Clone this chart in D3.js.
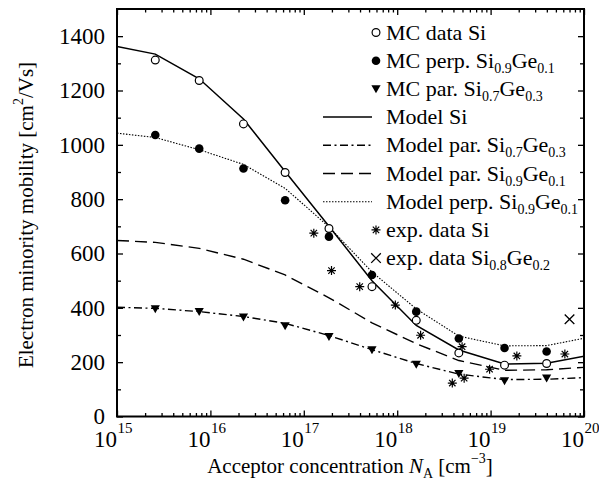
<!DOCTYPE html>
<html><head><meta charset="utf-8">
<script src="https://cdn.jsdelivr.net/npm/d3@7"></script>
<style>
body{margin:0;background:#fff}
svg text{font-family:"Liberation Serif","Tinos","Times New Roman","Nimbus Roman","DejaVu Serif",serif !important;fill:#000}
</style>
</head><body><svg id="c" width="599" height="491"></svg>
<script>
// ---- data ----
const concMC = [2.57e15, 7.59e15, 2.26e16, 6.31e16, 1.86e17, 5.37e17, 1.60e18, 4.57e18, 1.41e19, 3.98e19];
const mcSi = [1312, 1237, 1077, 898, 692, 478, 354, 234, 189, 195];
const mcPerp91 = [1036, 986, 913, 796, 662, 521, 386, 287, 252, 239];
const mcPar73 = [396, 386, 366, 334, 294, 245, 192, 158, 131, 141];

const concModel = [1e15, 2.57e15, 7.59e15, 2.26e16, 6.31e16, 1.86e17, 5.37e17, 1.60e18, 4.57e18, 1.41e19, 3.98e19, 1e20];
const modelSi = [1362, 1334, 1243, 1095, 902, 700, 500, 335, 245, 193, 196, 222];
const modelPar73 = [402, 398, 386, 368, 343, 298, 246, 195, 156, 136, 137, 143];
const modelPar91 = [648, 641, 619, 579, 521, 437, 345, 268, 206, 170, 172, 181];
const modelPerp91 = [1043, 1027, 982, 928, 840, 698, 532, 396, 296, 260, 261, 288];

const concExpSi = [1.28e17, 1.98e17, 3.97e17, 9.55e17, 1.78e18, 4.95e18, 3.89e18, 5.21e18, 9.75e18, 1.91e19, 6.24e19];
const expSi = [675, 537, 478, 410, 299, 257, 123, 141, 174, 223, 230];
const concExpSiGe = [7.0e19];
const expSiGe = [358];

const yTicks = [0, 200, 400, 600, 800, 1000, 1200, 1400];
const yMinorTicks = [100, 300, 500, 700, 900, 1100, 1300];
const xTicks = [1e15, 1e16, 1e17, 1e18, 1e19, 1e20];
const xTickExp = ["15", "16", "17", "18", "19", "20"];

// ---- layout ----
const L = 117, R = 584, T = 9, B = 416.5;
const FONT = '"Liberation Serif","Tinos","Times New Roman","Nimbus Roman","DejaVu Serif",serif';
const svg = d3.select("#c");
const x = d3.scaleLog().domain([1e15, 1e20]).range([L, R]);
const y = d3.scaleLinear().domain([0, 1500]).range([B, T]);

const xMinor = [];
for (let d = 15; d < 20; d++) for (let k = 2; k <= 9; k++) xMinor.push(k * Math.pow(10, d));

function styleAxis(g) {
  g.select(".domain").remove();
  g.attr("font-family", FONT);
  g.selectAll(".tick line").attr("stroke", "#000").attr("stroke-width", 1.3);
}
// bottom
svg.append("g").attr("transform", `translate(0,${B})`)
  .call(d3.axisBottom(x).tickValues(xTicks).tickSize(-6).tickFormat("")).call(styleAxis);
svg.append("g").attr("transform", `translate(0,${B})`)
  .call(d3.axisBottom(x).tickValues(xMinor).tickSize(-3.5).tickFormat("")).call(styleAxis);
// top
svg.append("g").attr("transform", `translate(0,${T})`)
  .call(d3.axisTop(x).tickValues(xTicks).tickSize(-6).tickFormat("")).call(styleAxis);
svg.append("g").attr("transform", `translate(0,${T})`)
  .call(d3.axisTop(x).tickValues(xMinor).tickSize(-3.5).tickFormat("")).call(styleAxis);
// left
const gl = svg.append("g").attr("transform", `translate(${L},0)`)
  .call(d3.axisLeft(y).tickValues(yTicks).tickSize(-6).tickPadding(12).tickFormat(d3.format("d"))).call(styleAxis);
gl.attr("font-size", 23);
gl.selectAll(".tick text").attr("font-size", 23).attr("fill", "#000");
svg.append("g").attr("transform", `translate(${L},0)`)
  .call(d3.axisLeft(y).tickValues(yMinorTicks).tickSize(-4).tickFormat("")).call(styleAxis);
// right
svg.append("g").attr("transform", `translate(${R},0)`)
  .call(d3.axisRight(y).tickValues(yTicks).tickSize(-6).tickFormat("")).call(styleAxis);
svg.append("g").attr("transform", `translate(${R},0)`)
  .call(d3.axisRight(y).tickValues(yMinorTicks).tickSize(-4).tickFormat("")).call(styleAxis);

// x tick labels 10^n
const xl = svg.append("g");
xTicks.forEach((v, i) => {
  xl.append("text").attr("x", x(v)).attr("y", 447).attr("text-anchor", "end").attr("font-size", 23).text("10");
  xl.append("text").attr("x", x(v) + 0.5).attr("y", 433).attr("text-anchor", "start").attr("font-size", 15).text(xTickExp[i]);
});

// clip
svg.append("defs").append("clipPath").attr("id", "clip")
  .append("rect").attr("x", L).attr("y", T).attr("width", R - L).attr("height", B - T);
const plot = svg.append("g").attr("clip-path", "url(#clip)");

const line = d3.line().x(d => x(d[0])).y(d => y(d[1]));
const models = [
  {v: modelSi, dash: null, w: 1.5},
  {v: modelPar73, dash: "8,3.5,2,3.5", w: 1.4},
  {v: modelPar91, dash: "12,6", w: 1.4},
  {v: modelPerp91, dash: "1.5,1.5", w: 1.1}
];
models.forEach(m => {
  plot.append("path").datum(concModel.map((c, i) => [c, m.v[i]]))
    .attr("d", line).attr("fill", "none").attr("stroke", "#000")
    .attr("stroke-width", m.w).attr("stroke-dasharray", m.dash);
});

// marker drawers
function openCircle(g) { g.append("circle").attr("r", 3.9).attr("fill", "#fff").attr("stroke", "#000").attr("stroke-width", 1.2); }
function fullCircle(g) { g.append("circle").attr("r", 4.3).attr("fill", "#000"); }
function triDown(g) { g.append("path").attr("d", "M-4.6,-3.6L4.6,-3.6L0,4.4Z").attr("fill", "#000"); }
function star(g) {
  g.append("path").attr("d", "M-4.5,0H4.5M0,-4.5V4.5M-3.2,-3.2L3.2,3.2M-3.2,3.2L3.2,-3.2")
    .attr("stroke", "#000").attr("stroke-width", 1.2).attr("fill", "none");
}
function cross(g) {
  g.append("path").attr("d", "M-4.8,-4.8L4.8,4.8M-4.8,4.8L4.8,-4.8")
    .attr("stroke", "#000").attr("stroke-width", 1.3).attr("fill", "none");
}
function points(xs, ys, fn) {
  xs.forEach((c, i) => {
    const g = plot.append("g").attr("transform", `translate(${x(c)},${y(ys[i])})`);
    fn(g);
  });
}
points(concMC, mcSi, openCircle);
points(concMC, mcPerp91, fullCircle);
points(concMC, mcPar73, triDown);
points(concExpSi, expSi, star);
points(concExpSiGe, expSiGe, cross);

// border
svg.append("rect").attr("x", L).attr("y", T).attr("width", R - L).attr("height", B - T)
  .attr("fill", "none").attr("stroke", "#000").attr("stroke-width", 2);

// legend
const legend = [
  {parts: [["MC data Si"]], m: openCircle},
  {parts: [["MC perp. Si"], ["0.9", "sub"], ["Ge"], ["0.1", "sub"]], m: fullCircle},
  {parts: [["MC par. Si"], ["0.7", "sub"], ["Ge"], ["0.3", "sub"]], m: triDown},
  {parts: [["Model Si"]], dash: null, w: 1.5},
  {parts: [["Model par. Si"], ["0.7", "sub"], ["Ge"], ["0.3", "sub"]], dash: "8,3.5,2,3.5", w: 1.4},
  {parts: [["Model par. Si"], ["0.9", "sub"], ["Ge"], ["0.1", "sub"]], dash: "12,6", w: 1.4},
  {parts: [["Model perp. Si"], ["0.9", "sub"], ["Ge"], ["0.1", "sub"]], dash: "1.5,1.5", w: 1.1},
  {parts: [["exp. data Si"]], m: star},
  {parts: [["exp. data Si"], ["0.8", "sub"], ["Ge"], ["0.2", "sub"]], m: cross}
];
const lg = svg.append("g");
legend.forEach((e, i) => {
  const by = 39.5 + i * 28.2;
  const cy = by - 7;
  if (e.m) {
    const g = lg.append("g").attr("transform", `translate(376,${cy})`);
    e.m(g);
  } else {
    lg.append("line").attr("x1", 323).attr("x2", 372).attr("y1", cy).attr("y2", cy)
      .attr("stroke", "#000").attr("stroke-width", e.w).attr("stroke-dasharray", e.dash);
  }
  const t = lg.append("text").attr("x", 386).attr("y", by).attr("font-size", 22);
  let shifted = false;
  e.parts.forEach(p => {
    const ts = t.append("tspan").text(p[0]);
    if (p[1] === "sub") { ts.attr("font-size", 14).attr("dy", 5); shifted = true; }
    else if (shifted) { ts.attr("dy", -5); shifted = false; }
  });
});

// axis titles
const xt = svg.append("text").attr("x", 350).attr("y", 473).attr("text-anchor", "middle").attr("font-size", 21);
xt.append("tspan").text("Acceptor concentration ");
xt.append("tspan").attr("font-style", "italic").text("N");
xt.append("tspan").attr("font-size", 14).attr("dy", 5).text("A");
xt.append("tspan").attr("dy", -5).text(" [cm");
xt.append("tspan").attr("font-size", 14).attr("dy", -10).text("\u22123");
xt.append("tspan").attr("dy", 10).text("]");

const yt = svg.append("text").attr("transform", "translate(33,215) rotate(-90)").attr("text-anchor", "middle").attr("font-size", 21);
yt.append("tspan").text("Electron minority mobility [cm");
yt.append("tspan").attr("font-size", 14).attr("dy", -10).text("2");
yt.append("tspan").attr("dy", 10).text("/Vs]");
</script>
</body></html>
